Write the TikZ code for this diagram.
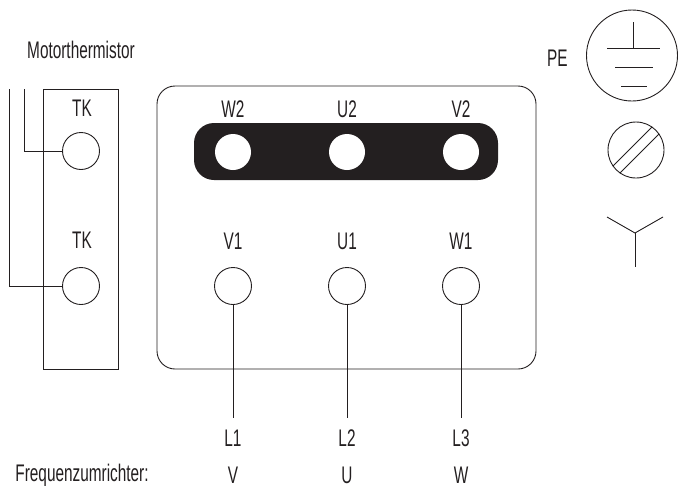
\documentclass[tikz,border=0pt]{standalone}
\usepackage{fontspec}
\setmainfont{Liberation Sans}[FakeStretch=0.64]
\usepackage{tikz}
\usetikzlibrary{positioning}
\definecolor{ink}{HTML}{231F20}

\tikzset{
  lbl/.style={font=\fontsize{24}{24}\selectfont, inner sep=0pt},
  term/.style={circle, draw, minimum size=37, inner sep=0pt},
  bolt/.style={circle, fill=white, minimum size=36, inner sep=0pt},
}

\begin{document}
\begin{tikzpicture}[x=1pt, y=-1pt, line width=0.9pt, color=ink]
    \useasboundingbox (0,0) rectangle (678,496);
    % thermistor block
    \node[lbl] (mt) at (81,50) {Motorthermistor};
    \node[draw, minimum width=75, minimum height=280, inner sep=0pt] (tkbox) at (80.5,229) {};
    \node[lbl] (tka) at (82,108) {TK};
    \node[term] (tk1) at (81,151) {};
    \node[lbl] (tkb) at (82,240) {TK};
    \node[term] (tk2) at (81,286) {};
    \coordinate (wa) at (24,89);
    \coordinate (wb) at (9,89);
    \draw (wa) |- (tk1.west);
    \draw (wb) |- (tk2.west);
    % terminal board
    \node[draw, rounded corners=18pt, minimum width=379, minimum height=283, inner sep=0pt] (board) at (346.5,227.5) {};
    \node[fill=ink, rounded corners=20pt, minimum width=304, minimum height=57, inner sep=0pt] (bar) at (346,151.5) {};
    \foreach \x/\tname/\bname/\lname/\fname [count=\i] in {233/W2/V1/L1/V, 347/U2/U1/L2/U, 461/V2/W1/L3/W} {
      \node[lbl] (up\i) at (\x,109) {\tname};
      \node[bolt] (bolt\i) at (\x,152) {};
      \node[lbl] (lo\i) at (\x,241) {\bname};
      \node[term] (t\i) at (\x,286) {};
      \coordinate (e\i) at (\x,418);
      \draw (t\i.south) -- (e\i);
      \node[lbl] (ph\i) at (\x,438) {\lname};
      \node[lbl] (fc\i) at (\x,475) {\fname};
    }
    \node[lbl, anchor=west] (fu) at (15,475) {Frequenzumrichter:};
    % symbols
    \node[lbl, anchor=east] (pe) at (568,58) {PE};
    \node[circle, draw, minimum size=91, inner sep=0pt] (pecirc) at (632,55.5) {};
    \draw (633,22) -- (633,48);
    \draw (607,48) -- (660,48);
    \draw (615,67) -- (653,67);
    \draw (621,86) -- (647,86);
    \node[circle, draw, minimum size=56, inner sep=0pt] (screw) at (636,150) {};
    \begin{scope}
      \clip (636,150) circle (28);
      \draw (592.5,186.5) -- (672.5,106.5);
      \draw (599.5,193.5) -- (679.5,113.5);
    \end{scope}
    \coordinate (star) at (635,233);
    \draw (607,217) -- (star) -- (663,217);
    \draw (star) -- (635,267);
\end{tikzpicture}
\end{document}
